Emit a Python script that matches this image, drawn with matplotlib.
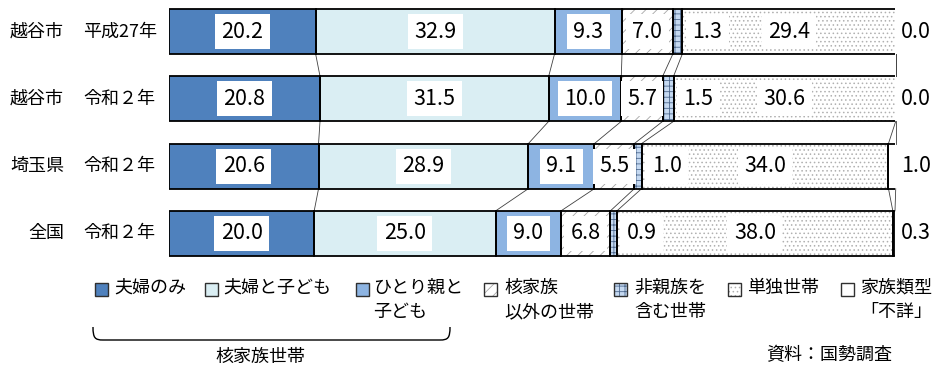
import matplotlib
matplotlib.use("Agg")
import matplotlib.pyplot as plt
from matplotlib.patches import Rectangle, PathPatch
from matplotlib.path import Path
import matplotlib.transforms as mtransforms
import numpy as np

plt.rcParams['font.family'] = ['Noto Sans CJK JP', 'DejaVu Sans']
plt.rcParams['hatch.linewidth'] = 0.6

regions = ['越谷市', '越谷市', '埼玉県', '全国']
years = ['平成27年', '令和２年', '令和２年', '令和２年']
categories = ['夫婦のみ', '夫婦と子ども', 'ひとり親と\n子ども', '核家族\n以外の世帯',
              '非親族を\n含む世帯', '単独世帯', '家族類型\n「不詳」']
couple_only = [20.2, 20.8, 20.6, 20.0]
couple_children = [32.9, 31.5, 28.9, 25.0]
single_parent = [9.3, 10.0, 9.1, 9.0]
other_kin = [7.0, 5.7, 5.5, 6.8]
non_kin = [1.3, 1.5, 1.0, 0.9]
one_person = [29.4, 30.6, 34.0, 38.0]
unknown = [0.0, 0.0, 1.0, 0.3]
group_label = '核家族世帯'
source = '資料：国勢調査'

series = [couple_only, couple_children, single_parent, other_kin, non_kin, one_person, unknown]
styles = [
    dict(fc='#4F81BD', hatch=None, hc=None),
    dict(fc='#DAEEF3', hatch=None, hc=None),
    dict(fc='#8DB4E2', hatch=None, hc=None),
    dict(fc='white', hatch='///', hc='#A6A6A6'),
    dict(fc='#C5D9F1', hatch='+++', hc='#4F6A8F'),
    dict(fc='white', hatch='....', hc='#B0B0B0'),
    dict(fc='white', hatch=None, hc=None),
]

W, H = 941, 379
fig = plt.figure(figsize=(W / 100, H / 100), dpi=100)
ptrans = mtransforms.Affine2D().scale(1 / W, -1 / H).translate(0, 1) + fig.transFigure

c0, sp = 31.5, 67.3
ytop, ybot = 0, 270
ax = fig.add_axes([169 / W, 1 - ybot / H, 726 / W, (ybot - ytop) / H])
ax.set_xlim(0, 100)
ax.set_ylim((ybot - c0) / sp, (ytop - c0) / sp)
ax.axis('off')

n = len(regions)
ypos = np.arange(n)
bh = 0.67
num_font = ['Liberation Sans Narrow', 'Noto Sans CJK JP']
left = np.zeros(n)
bounds = []
for vals, st in zip(series, styles):
    vals = np.array(vals)
    ax.barh(ypos, vals, left=left, height=bh, color=st['fc'], edgecolor=st['hc'] if st['hc'] else 'none',
            hatch=st['hatch'], linewidth=0, zorder=2)
    ax.barh(ypos, vals, left=left, height=bh, fill=False, edgecolor='black', linewidth=1.3, zorder=3)
    left = left + vals
    bounds.append(left.copy())

# connecting lines
for b in bounds:
    for i in range(n - 1):
        ax.plot([b[i], b[i + 1]], [i + bh / 2, i + 1 - bh / 2], color='#404040', lw=0.6, zorder=1,
                clip_on=False)

# value labels
bbox = dict(boxstyle='square,pad=0.3', fc='white', ec='none')
fs = 15.5
for i in range(n):
    cum = 0
    for k, vals in enumerate(series):
        v = vals[i]
        txt = f'{v:.1f}'
        if k == 4:
            ax.annotate(txt, (cum + v, i), xytext=(10, 0), textcoords='offset pixels', ha='left',
                        va='center', fontsize=fs, family=num_font, bbox=bbox, zorder=5)
        elif k == 6:
            ax.annotate(txt, (100, i), xytext=(6, 0), textcoords='offset pixels', ha='left',
                        va='center', fontsize=fs, family=num_font, zorder=5, annotation_clip=False)
        else:
            ax.text(cum + v / 2, i, txt, ha='center', va='center', fontsize=fs, family=num_font,
                    bbox=bbox, zorder=5)
        cum += v

# row labels
for i in range(n):
    yc = c0 + sp * i
    fig.text(64, yc, regions[i], transform=ptrans, ha='right', va='center', fontsize=13)
    fig.text(83, yc, years[i], transform=ptrans, ha='left', va='center', fontsize=13)

# legend
sq_x = [95, 205, 356, 484, 614, 728, 841]
tx_x = [114, 223, 373, 504, 634, 747, 860]
ly = 290
for k, st in enumerate(styles):
    r = Rectangle((sq_x[k], ly - 7), 13, 13, transform=ptrans, fc=st['fc'],
                  ec=st['hc'] if st['hc'] else 'none', hatch=st['hatch'], lw=0)
    fig.add_artist(r)
    fig.add_artist(Rectangle((sq_x[k], ly - 7), 13, 13, transform=ptrans, fill=False,
                             ec='#303030', lw=1.0))
    fig.text(tx_x[k], ly - 11, categories[k], transform=ptrans, ha='left', va='top', fontsize=13,
             linespacing=1.45)

# brace
bx0, bx1, by0, by1 = 93, 450, 327, 340
verts = [(bx0, by0), (bx0, by1 - 2), (bx0 + 2, by1), (bx0 + 10, by1),
         (bx1 - 10, by1),
         (bx1 - 2, by1), (bx1, by1 - 2), (bx1, by0)]
codes = [Path.MOVETO, Path.CURVE4, Path.CURVE4, Path.CURVE4, Path.LINETO,
         Path.CURVE4, Path.CURVE4, Path.CURVE4]
fig.add_artist(PathPatch(Path(verts, codes), transform=ptrans, fill=False, ec='black', lw=1.0))
fig.text(260, 357, group_label, transform=ptrans, ha='center', va='center', fontsize=13)
fig.text(892, 355, source, transform=ptrans, ha='right', va='center', fontsize=13)

fig.savefig('out.png', dpi=100)
